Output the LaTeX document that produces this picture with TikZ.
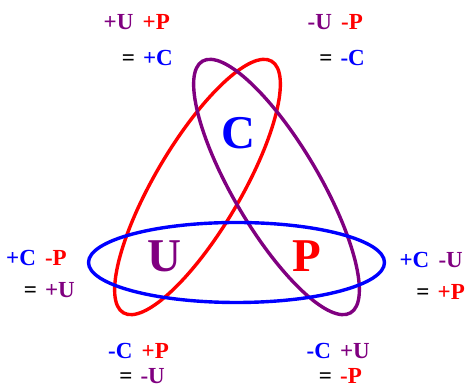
\documentclass[tikz,border=0pt]{standalone}
\usepackage{fontspec}
\setmainfont{Liberation Serif}
\usetikzlibrary{positioning}
\definecolor{UPurple}{RGB}{128,0,128}
\definecolor{PRed}{RGB}{255,0,0}
\definecolor{CBlue}{RGB}{0,0,255}
\tikzset{
  ring/.style={line width=3.4pt},
  eqline/.style={anchor=east,inner sep=0pt,font=\fontsize{23}{23}\selectfont\bfseries},
  bigletter/.style={inner sep=0pt,font=\fontsize{47}{47}\selectfont\bfseries}
}

\begin{document}
\begin{tikzpicture}[x=1pt,y=1pt]
  \useasboundingbox (0,0) rectangle (467,388);
  % the three rings
  \draw[ring,draw=PRed,rotate around={59.5:(197.5,201)}] (197.5,201) ellipse (146pt and 43pt);
  \draw[ring,draw=UPurple,rotate around={120.5:(276.5,201)}] (276.5,201) ellipse (146pt and 43pt);
  \draw[ring,draw=CBlue] (236.5,125.5) ellipse (148pt and 40pt);
  % letters inside
  \node[bigletter,text=CBlue] (cc) at (238,255) {C};
  \node[bigletter,text=UPurple] (uu) at (164,132) {U};
  \node[bigletter,text=PRed] (pp) at (307,132) {P};
  % top
  \node[eqline] (tl1) at (170,366) {\textcolor{UPurple}{+U}\hspace{0.4em}\textcolor{PRed}{+P}};
  \node[eqline] (tl2) at (173,330) {=\hspace{0.35em}\textcolor{CBlue}{+C}};
  \node[eqline] (tr1) at (363,366) {\textcolor{UPurple}{-U}\hspace{0.4em}\textcolor{PRed}{-P}};
  \node[eqline] (tr2) at (365,330) {=\hspace{0.35em}\textcolor{CBlue}{-C}};
  % sides
  \node[eqline] (ml1) at (67,130) {\textcolor{CBlue}{+C}\hspace{0.4em}\textcolor{PRed}{-P}};
  \node[eqline] (ml2) at (75,98) {=\hspace{0.35em}\textcolor{UPurple}{+U}};
  \node[eqline] (mr1) at (463,128) {\textcolor{CBlue}{+C}\hspace{0.4em}\textcolor{UPurple}{-U}};
  \node[eqline] (mr2) at (465,96) {=\hspace{0.35em}\textcolor{PRed}{+P}};
  % bottom
  \node[eqline] (bl1) at (169,37) {\textcolor{CBlue}{-C}\hspace{0.4em}\textcolor{PRed}{+P}};
  \node[eqline] (bl2) at (165,12) {=\hspace{0.35em}\textcolor{UPurple}{-U}};
  \node[eqline] (br1) at (370,37) {\textcolor{CBlue}{-C}\hspace{0.4em}\textcolor{UPurple}{+U}};
  \node[eqline] (br2) at (362,12) {=\hspace{0.35em}\textcolor{PRed}{-P}};
\end{tikzpicture}
\end{document}
